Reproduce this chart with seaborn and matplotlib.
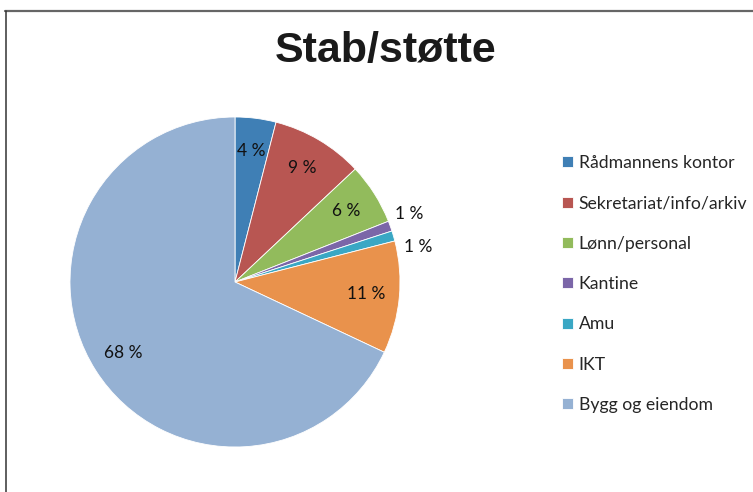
import numpy as np
import matplotlib
matplotlib.use("Agg")
import matplotlib.pyplot as plt
import seaborn as sns

# data
kategorier = ["Rådmannens kontor", "Sekretariat/info/arkiv", "Lønn/personal",
              "Kantine", "Amu", "IKT", "Bygg og eiendom"]
andeler = [4, 9, 6, 1, 1, 11, 68]
farger = ["#3f7fb5", "#b85652", "#92bb5c", "#7b66a8", "#3aa7c4", "#e9924c", "#95b1d3"]

sns.set_theme(style="white")
plt.rcParams["font.family"] = ["Lato", "DejaVu Sans"]

W, H = 753, 492
fig = plt.figure(figsize=(W / 100, H / 100), dpi=100)

# pie axes: centre (235, 282) px, radius 165 px
cx, cy, r = 235, 282, 165
ax = fig.add_axes([(cx - r) / W, (H - cy - r) / H, 2 * r / W, 2 * r / H])
pal = sns.color_palette(farger)
wedges, _ = ax.pie(andeler, colors=pal, startangle=90, counterclock=False,
                   radius=1, wedgeprops=dict(linewidth=0.6, edgecolor="white"))
ax.set_xlim(-1, 1)
ax.set_ylim(-1, 1)
ax.set_aspect("equal")
ax.axis("off")

# percentage labels
for i, (w, v) in enumerate(zip(wedges, andeler)):
    mid = np.deg2rad((w.theta1 + w.theta2) / 2)
    if v > 2:
        d = 0.8
        ax.text(d * np.cos(mid), d * np.sin(mid), f"{v} %", ha="center", va="center",
                fontsize=12.5, color="#111111")
    else:
        # small slices: labels outside, spread a little apart
        shift = 1.5 if i == 3 else -5.5
        m = mid + np.deg2rad(shift)
        d = 1.13
        ax.text(d * np.cos(m), d * np.sin(m), f"{v} %", ha="center", va="center",
                fontsize=12.5, color="#111111")

# title
fig.text(386 / W, 1 - 51 / H, "Stab/støtte", ha="center", va="center",
         fontsize=31, fontweight="bold", color="#1a1a1a",
         family=["Liberation Sans", "DejaVu Sans"])

# legend
fig.legend(wedges, kategorier, loc="upper left", bbox_to_anchor=(562 / W, 1 - 155 / H),
           frameon=False, fontsize=12.7, handlelength=0.6, handleheight=0.6,
           handletextpad=0.35, labelspacing=1.38, borderpad=0, borderaxespad=0)

# frame lines
fig.add_artist(plt.Line2D([5 / W, 1], [1 - 11 / H, 1 - 11 / H], color="#666666",
                          linewidth=1.6, transform=fig.transFigure))
fig.add_artist(plt.Line2D([6 / W, 6 / W], [0, 1 - 11 / H], color="#333333",
                          linewidth=1.1, transform=fig.transFigure))

plt.savefig("out.png", dpi=100)
